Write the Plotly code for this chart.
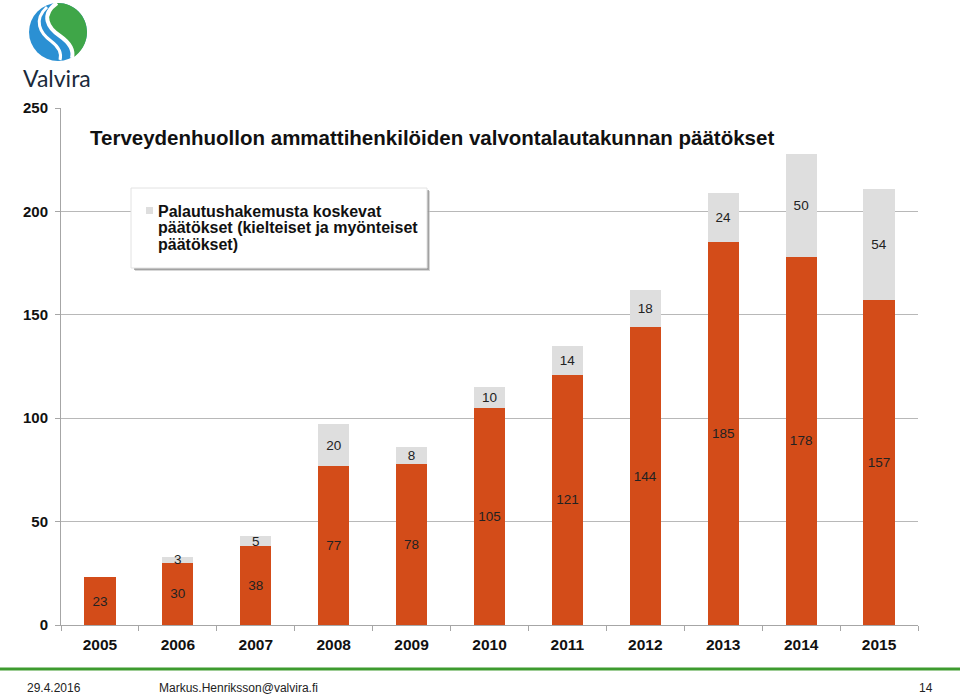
import plotly.graph_objects as go

# ---- data ----
years = ["2005", "2006", "2007", "2008", "2009", "2010", "2011", "2012", "2013", "2014", "2015"]
decisions = [23, 30, 38, 77, 78, 105, 121, 144, 185, 178, 157]
appeal_decisions = [0, 3, 5, 20, 8, 10, 14, 18, 24, 50, 54]
legend_lines = ["Palautushakemusta koskevat",
                "päätökset (kielteiset ja myönteiset",
                "päätökset)"]
title_text = "Terveydenhuollon ammattihenkilöiden valvontalautakunnan päätökset"
footer_date = "29.4.2016"
footer_author = "Markus.Henriksson@valvira.fi"
footer_page = "14"

W, H = 960, 697
L, R, T, B = 61, 918, 108, 625


def px(x):
    return (x - L) / (R - L)


def py(y):
    return (B - y) / (B - T)


def path(points_cmds):
    out = []
    for cmd, pts in points_cmds:
        coords = [f"{px(x):.5f},{py(y):.5f}" for (x, y) in pts]
        out.append(cmd + " " + " ".join(coords))
    return " ".join(out) + " Z"


def stroke(pts):
    s = f"M {px(pts[0][0]):.5f},{py(pts[0][1]):.5f}"
    for i in range(1, len(pts), 3):
        s += " C " + " ".join(f"{px(x):.5f},{py(y):.5f}" for x, y in pts[i:i + 3])
    return s


FONT = "Liberation Sans, Arial, sans-serif"
ORANGE = "#D34C19"
GRAY = "#DEDEDE"
AXIS = "#A6A6A6"
TXT = "#111111"

fig = go.Figure()
fig.add_bar(
    x=years, y=decisions, marker=dict(color=ORANGE, line=dict(width=0)),
    showlegend=False, name="Päätökset",
    text=[str(v) for v in decisions], textposition="inside", textangle=0,
    insidetextanchor="middle", constraintext="none",
    textfont=dict(family=FONT, size=13.5, color="#222222"),
)
fig.add_bar(
    x=years, y=appeal_decisions, marker=dict(color=GRAY, line=dict(width=0)),
    showlegend=False, name=" ".join(legend_lines),
    text=[str(v) if v else "" for v in appeal_decisions], textposition="inside", textangle=0,
    insidetextanchor="middle", constraintext="none",
    textfont=dict(family=FONT, size=13.5, color="#222222"),
)

shapes = []
# legend box with shadow
shapes.append(dict(type="rect", xref="paper", yref="paper",
                   x0=px(135), x1=px(430), y0=py(271), y1=py(191),
                   fillcolor="#BDBDBD", opacity=0.6, line=dict(width=0), layer="above"))
shapes.append(dict(type="rect", xref="paper", yref="paper",
                   x0=px(134), x1=px(429), y0=py(270), y1=py(190),
                   fillcolor="#8C8C8C", opacity=0.7, line=dict(width=0), layer="above"))
shapes.append(dict(type="rect", xref="paper", yref="paper",
                   x0=px(131), x1=px(427), y0=py(268), y1=py(188),
                   fillcolor="white", line=dict(color="#E2E2E2", width=1), layer="above"))
shapes.append(dict(type="rect", xref="paper", yref="paper",
                   x0=px(146), x1=px(153), y0=py(214), y1=py(207),
                   fillcolor=GRAY, line=dict(width=0), layer="above"))
# footer line
shapes.append(dict(type="line", xref="paper", yref="paper",
                   x0=px(0), x1=px(960), y0=py(669), y1=py(669),
                   line=dict(color="#3E9B2F", width=3)))
# logo
cx, cy, r = 58, 32, 29
shapes.append(dict(type="circle", xref="paper", yref="paper",
                   x0=px(cx - r), x1=px(cx + r), y0=py(cy + r), y1=py(cy - r),
                   fillcolor="#2B90D3", line=dict(width=0)))
k = 0.5523 * r
green = path([
    ("M", [(58, 3)]),
    ("C", [(58 + k, 3), (87, 32 - k), (87, 32)]),
    ("C", [(87, 42.6), (81.4, 53.0), (72, 58)]),
    ("C", [(74, 50), (70, 43), (60, 36)]),
    ("C", [(48, 28), (40, 15), (57, 3)]),
])
shapes.append(dict(type="path", xref="paper", yref="paper", path=green,
                   fillcolor="#3FA648", line=dict(width=0)))
shapes.append(dict(type="path", xref="paper", yref="paper",
                   path=stroke([(57, 3), (40, 15), (48, 28), (60, 36), (70, 43), (74, 50), (72, 58)]),
                   line=dict(color="white", width=4)))
shapes.append(dict(type="path", xref="paper", yref="paper",
                   path=stroke([(47, 7), (33, 20), (40, 33), (51, 41), (59, 47), (62, 53), (60, 60)]),
                   line=dict(color="white", width=3)))


def note(text, x, y, size, xanchor="left", family=FONT, color=TXT):
    return dict(text=text, x=px(x), y=py(y), xref="paper", yref="paper",
                xanchor=xanchor, yanchor="middle", showarrow=False,
                font=dict(family=family, size=size, color=color))


annotations = [
    note(f"<b>{title_text}</b>", 88, 137, 20.5),
    note("Valvira", 57, 78, 23, xanchor="center", family="Lato, Open Sans, sans-serif", color="#1B2A3B"),
    note(footer_date, 25, 688, 12, color="#222222"),
    note(footer_author, 157, 688, 12, color="#222222"),
    note(footer_page, 935, 688, 12, xanchor="right", color="#222222"),
]
for i, line in enumerate(legend_lines):
    annotations.append(note(f"<b>{line}</b>", 156, 211 + 16.7 * i, 16))

fig.update_layout(
    width=W, height=H,
    margin=dict(l=L, r=W - R, t=T, b=H - B, pad=0),
    paper_bgcolor="white", plot_bgcolor="white",
    barmode="stack", bargap=0.6,
    font=dict(family=FONT, color=TXT),
    uniformtext=dict(minsize=13.5, mode="show"),
    shapes=shapes, annotations=annotations,
    showlegend=False,
    xaxis=dict(type="category", showline=True, linecolor=AXIS, linewidth=1,
               ticks="outside", tickson="boundaries", ticklen=5, tickcolor=AXIS,
               ticklabelstandoff=5,
               tickfont=dict(family=FONT, size=15.5, color=TXT, weight="bold"),
               showgrid=False, fixedrange=True),
    yaxis=dict(range=[0, 250], dtick=50, showgrid=True, gridcolor="#B8B8B8",
               showline=True, linecolor=AXIS, linewidth=1, zeroline=False,
               ticks="outside", ticklen=5, tickcolor=AXIS, ticklabelstandoff=4,
               tickfont=dict(family=FONT, size=15, color=TXT, weight="bold"),
               fixedrange=True),
)

fig.write_html("out.html", config={"displayModeBar": False},
               post_script="document.body.style.margin='0';document.body.style.overflow='hidden';")
